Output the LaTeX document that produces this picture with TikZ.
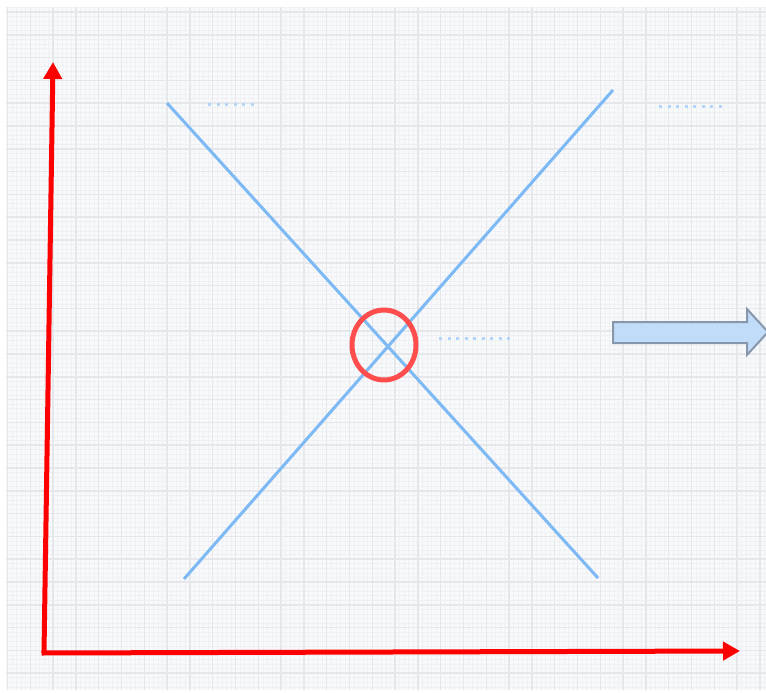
\documentclass[tikz,border=0pt]{standalone}
\usetikzlibrary{arrows.meta,shapes.geometric}
\definecolor{gridbg}{RGB}{248,249,251}
\definecolor{gridminor}{RGB}{239,241,244}
\definecolor{gridmajor}{RGB}{229,231,235}
\definecolor{xblue}{RGB}{125,185,245}
\definecolor{dotblue}{RGB}{180,212,248}
\definecolor{ringred}{RGB}{255,77,77}
\definecolor{axisred}{RGB}{255,0,0}
\definecolor{arrowfill}{RGB}{192,220,248}
\definecolor{arrowedge}{RGB}{135,152,172}
\tikzset{
  axisline/.style={draw=axisred,line width=5pt,-{Triangle[length=17pt,width=18pt]}},
  xline/.style={draw=xblue,line width=3pt},
  dotline/.style={draw=dotblue,line width=3pt,dash pattern=on 3pt off 5.5pt},
  ring/.style={draw=ringred,line width=5pt,ellipse,inner sep=0pt,minimum width=64pt,minimum height=70pt},
  blockarrow/.style={fill=arrowfill,draw=arrowedge,line width=2pt,line join=miter}
}
\begin{document}
\begin{tikzpicture}[x=1pt,y=-1pt]
\useasboundingbox (0,0) rectangle (766,693);
\fill[white] (0,0) rectangle (766,693);
% grid
\begin{scope}
\clip (6,7) rectangle (766,690);
\fill[gridbg] (6,7) rectangle (766,690);
\foreach \i in {-2,...,170} {
  \draw[gridminor,line width=0.6pt] ({7.5+4.56*\i},7) -- ({7.5+4.56*\i},690);
}
\foreach \i in {-3,...,155} {
  \draw[gridminor,line width=0.6pt] (6,{12+4.56*\i}) -- (766,{12+4.56*\i});
}
\foreach \i in {0,...,34} {
  \draw[gridmajor,line width=1.5pt] ({7.5+22.8*\i},7) -- ({7.5+22.8*\i},690);
}
\foreach \i in {0,...,30} {
  \draw[gridmajor,line width=1.5pt] (6,{12+22.8*\i}) -- (766,{12+22.8*\i});
}
\end{scope}
% named points
\coordinate (o) at (44,653);
\coordinate (ytop) at (53,62);
\coordinate (xend) at (740,651);
\coordinate (a1) at (167,103);
\coordinate (a2) at (598,578);
\coordinate (b1) at (613,90);
\coordinate (b2) at (184,579);
% faint dotted marks
\draw[dotline] (208,104) -- (258,104);
\draw[dotline] (659,106) -- (727,106);
\draw[dotline] (439,338) -- (515,338);
% X lines
\draw[xline] (a1) -- (a2);
\draw[xline] (b1) -- (b2);
% ring
\node[ring] (r) at (384,345) {};
% axes
\draw[axisline] (o) -- (ytop);
\draw[axisline] ([xshift=-2.5pt]o) -- (xend);
% block arrow
\draw[blockarrow] (613,322) -- (747,322) -- (747,309) -- (768,332) -- (747,355) -- (747,343) -- (613,343) -- cycle;
\end{tikzpicture}
\end{document}
